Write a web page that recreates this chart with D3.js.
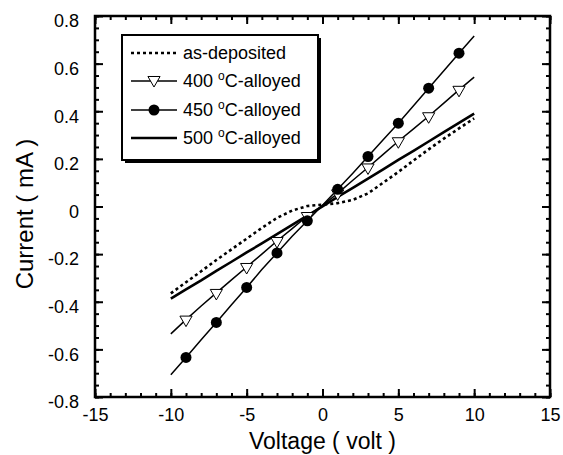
<!DOCTYPE html>
<html>
<head>
<meta charset="utf-8">
<script src="https://cdn.jsdelivr.net/npm/d3@7"></script>
<style>
  body { margin: 0; background: #fff; }
  svg { display: block; font-family: "Liberation Sans", Arial, sans-serif; }
</style>
</head>
<body>
<div class="chart"></div>
<script>
// voltage sweep (V) and measured currents (mA)
const voltage = [-10, -9, -8, -7, -6, -5, -4, -3, -2, -1, 0, 1, 2, 3, 4, 5, 6, 7, 8, 9, 10];
const asDeposited = [-0.365, -0.318, -0.272, -0.225, -0.18, -0.135, -0.09, -0.048, -0.017, 0.002, 0.008, 0.014, 0.028, 0.055, 0.1, 0.145, 0.193, 0.24, 0.285, 0.328, 0.37];
const alloyed400 = [-0.535, -0.475, -0.418, -0.363, -0.308, -0.254, -0.2, -0.145, -0.093, -0.04, 0.005, 0.055, 0.11, 0.164, 0.219, 0.274, 0.326, 0.379, 0.434, 0.49, 0.543];
const alloyed450 = [-0.707, -0.634, -0.56, -0.487, -0.413, -0.34, -0.265, -0.195, -0.125, -0.06, 0.005, 0.072, 0.14, 0.21, 0.28, 0.35, 0.423, 0.497, 0.57, 0.644, 0.716];
const alloyed500 = [-0.387, -0.348, -0.31, -0.27, -0.232, -0.193, -0.155, -0.116, -0.077, -0.038, 0.0, 0.04, 0.078, 0.117, 0.156, 0.196, 0.234, 0.273, 0.312, 0.351, 0.39];
const markerVoltage = [-9, -7, -5, -3, -1, 1, 3, 5, 7, 9];

const xTicks = [-15, -10, -5, 0, 5, 10, 15];
const yTicks = [-0.8, -0.6, -0.4, -0.2, 0, 0.2, 0.4, 0.6, 0.8];
const legendLabels = ["as-deposited", "400", "450", "500"];

const w = 563, h = 455;
const mLeft = 95, mRight = 550, mTop = 16, mBottom = 397;

const svg = d3.select(".chart").append("svg")
  .attr("width", w).attr("height", h);

const x = d3.scaleLinear().domain([-15, 15]).range([mLeft, mRight]);
const y = d3.scaleLinear().domain([-0.8, 0.8]).range([mBottom, mTop]);

// ticks, all pointing inward
function ticks(axis, pos, vals, size, pad) {
  const g = svg.append("g").attr("transform", pos)
    .call(axis.tickValues(vals).tickSize(size).tickPadding(pad || 0)
      .tickFormat(pad ? d => String(+d.toFixed(1)) : ""));
  g.select(".domain").remove();
  g.selectAll("line").attr("stroke", "#000").attr("stroke-width", 2);
  return g;
}
const xMinor = d3.range(-15, 15.1, 1);
const yMinor = d3.range(-0.8, 0.81, 0.05);

ticks(d3.axisBottom(x), `translate(0,${mBottom})`, xMinor, -4);
ticks(d3.axisTop(x), `translate(0,${mTop})`, xMinor, -4);
ticks(d3.axisLeft(y), `translate(${mLeft},0)`, yMinor, -4);
ticks(d3.axisRight(y), `translate(${mRight},0)`, yMinor, -4);

const xb = ticks(d3.axisBottom(x), `translate(0,${mBottom})`, xTicks, -8, 11);
ticks(d3.axisTop(x), `translate(0,${mTop})`, xTicks, -8);
const yl = ticks(d3.axisLeft(y), `translate(${mLeft},0)`, yTicks, -8, 16);
ticks(d3.axisRight(y), `translate(${mRight},0)`, yTicks, -8);

xb.selectAll("text").attr("font-size", 18).attr("fill", "#000").attr("font-family", "Liberation Sans, Arial, sans-serif");
yl.selectAll("text").attr("font-size", 18).attr("fill", "#000").attr("dy", "0.6em").attr("font-family", "Liberation Sans, Arial, sans-serif");

// frame
svg.append("rect")
  .attr("x", mLeft).attr("y", mTop)
  .attr("width", mRight - mLeft).attr("height", mBottom - mTop)
  .attr("fill", "none").attr("stroke", "#000").attr("stroke-width", 2.5);

// curves
const line = d3.line().x((d, i) => x(voltage[i])).y(d => y(d));

svg.append("path").datum(alloyed500).attr("d", line)
  .attr("fill", "none").attr("stroke", "#000").attr("stroke-width", 2.6);
svg.append("path").datum(asDeposited).attr("d", line)
  .attr("fill", "none").attr("stroke", "#000").attr("stroke-width", 2.6)
  .attr("stroke-dasharray", "3,3");
svg.append("path").datum(alloyed400).attr("d", line)
  .attr("fill", "none").attr("stroke", "#000").attr("stroke-width", 1.5);
svg.append("path").datum(alloyed450).attr("d", line)
  .attr("fill", "none").attr("stroke", "#000").attr("stroke-width", 1.5);

const tri = d3.symbol(d3.symbolTriangle, 64);
svg.selectAll(".tri").data(markerVoltage).enter().append("path")
  .attr("class", "tri")
  .attr("d", tri)
  .attr("transform", v => `translate(${x(v)},${y(alloyed400[voltage.indexOf(v)])}) rotate(180)`)
  .attr("fill", "#fff").attr("stroke", "#000").attr("stroke-width", 1);

svg.selectAll(".dot").data(markerVoltage).enter().append("circle")
  .attr("class", "dot")
  .attr("cx", v => x(v))
  .attr("cy", v => y(alloyed450[voltage.indexOf(v)]))
  .attr("r", 5.5).attr("fill", "#000");

// legend
const lg = svg.append("g");
lg.append("rect").attr("x", 125).attr("y", 38).attr("width", 196).attr("height", 125).attr("fill", "#000");
lg.append("rect").attr("x", 122).attr("y", 35).attr("width", 196).attr("height", 125)
  .attr("fill", "#fff").attr("stroke", "#000").attr("stroke-width", 2);

const rowY = [53, 81, 110, 138];
const styles = [
  { w: 2.6, dash: "3,3" }, { w: 1.5 }, { w: 1.5 }, { w: 2.6 }
];
rowY.forEach((ry, i) => {
  lg.append("line").attr("x1", 131).attr("x2", 177).attr("y1", ry).attr("y2", ry)
    .attr("stroke", "#000").attr("stroke-width", styles[i].w)
    .attr("stroke-dasharray", styles[i].dash || null);
  const t = lg.append("text").attr("x", 183).attr("y", ry).attr("dy", "0.36em")
    .attr("font-size", 18).attr("fill", "#000");
  if (i === 0) {
    t.text(legendLabels[i]);
  } else {
    t.append("tspan").text(legendLabels[i] + " ");
    t.append("tspan").text("o").attr("font-size", 12).attr("dy", "-0.6em");
    t.append("tspan").text("C-alloyed").attr("dy", "0.4em");
  }
});
lg.append("path").attr("d", tri).attr("transform", `translate(154,${rowY[1] - 1}) rotate(180)`)
  .attr("fill", "#fff").attr("stroke", "#000").attr("stroke-width", 1);
lg.append("circle").attr("cx", 154).attr("cy", rowY[2]).attr("r", 5.5).attr("fill", "#000");

// axis titles
svg.append("text").attr("x", (mLeft + mRight) / 2).attr("y", 449)
  .attr("text-anchor", "middle").attr("font-size", 23).attr("fill", "#000")
  .text("Voltage ( volt )");
svg.append("text").attr("transform", "translate(33,214) rotate(-90)")
  .attr("text-anchor", "middle").attr("font-size", 24).attr("fill", "#000")
  .text("Current ( mA )");
</script>
</body>
</html>
